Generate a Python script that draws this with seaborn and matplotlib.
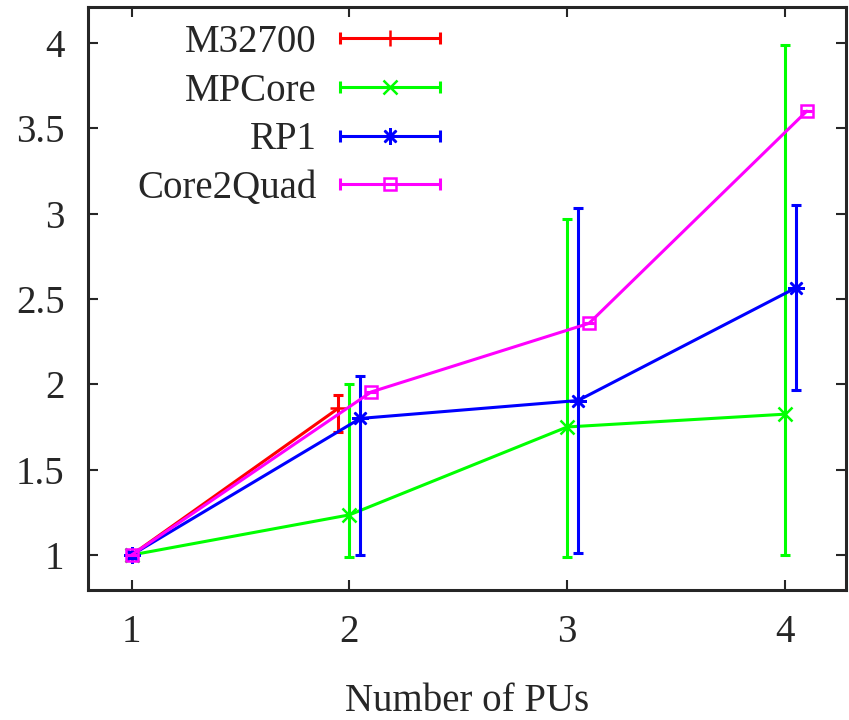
import numpy as np
import pandas as pd
import seaborn as sns
import matplotlib
matplotlib.use("Agg")
import matplotlib.pyplot as plt
from matplotlib.lines import Line2D
from matplotlib.legend_handler import HandlerLine2D, HandlerTuple

# datos
series = ["M32700", "MPCore", "RP1", "Core2Quad"]
colores = ["#ff0000", "#00ff00", "#0000ff", "#ff00ff"]
marcadores = ["+", "x", (8, 2, 0), "s"]

m32700_x = [1, 1.95]
m32700_y = [1.0, 1.86]
m32700_lo = [1.0, 1.72]
m32700_hi = [1.0, 1.94]

mpcore_x = [1, 2, 3, 4]
mpcore_y = [1.0, 1.235, 1.75, 1.825]
mpcore_lo = [1.0, 0.99, 0.99, 1.0]
mpcore_hi = [1.0, 2.0, 2.97, 3.99]

rp1_x = [1, 2.05, 3.05, 4.05]
rp1_y = [1.0, 1.80, 1.905, 2.565]
rp1_lo = [0.98, 1.0, 1.01, 1.965]
rp1_hi = [1.02, 2.05, 3.03, 3.05]

c2q_x = [1, 2.1, 3.1, 4.1]
c2q_y = [1.0, 1.955, 2.357, 3.60]
c2q_lo = [1.0, 1.955, 2.357, 3.60]
c2q_hi = [1.0, 1.955, 2.357, 3.60]

xticks = [1, 2, 3, 4]
yticks = [1, 1.5, 2, 2.5, 3, 3.5, 4]

datos = [
    (m32700_x, m32700_y, m32700_lo, m32700_hi),
    (mpcore_x, mpcore_y, mpcore_lo, mpcore_hi),
    (rp1_x, rp1_y, rp1_lo, rp1_hi),
    (c2q_x, c2q_y, c2q_lo, c2q_hi),
]

FS = 28

sns.set_style("ticks")
plt.rcParams["font.family"] = ["Liberation Serif", "DejaVu Serif"]
plt.rcParams["font.size"] = FS

fig = plt.figure(figsize=(8.49, 7.2), dpi=100)
ax = fig.add_axes([88 / 849, 1 - 590 / 720, (846 - 88) / 849, (590 - 7) / 720])


def tam(m):
    if m == "s":
        return 8
    if m == "x":
        return 10
    return 12


handles = []
handler_map = {}
for nombre, color, marca, (x, y, lo, hi) in zip(series, colores, marcadores, datos):
    df = pd.DataFrame({"x": x, "y": y})
    sns.lineplot(data=df, x="x", y="y", sort=False, color=color, lw=2.2,
                 marker=marca, ms=tam(marca), mec=color, mfc="none",
                 mew=1.8, ax=ax)
    y_arr = np.array(y)
    yerr = [y_arr - np.array(lo), np.array(hi) - y_arr]
    ax.errorbar(x, y, yerr=yerr, fmt="none", ecolor=color, elinewidth=2.2,
                capsize=3.8, capthick=2.2)
    # manija de leyenda: linea con topes + marcador central
    tope = Line2D([], [], color=color, lw=2.2, marker="|", ms=8, mew=2.2)
    centro = Line2D([], [], color=color, ls="none", marker=marca,
                    ms=tam(marca), mec=color, mfc="none", mew=1.8)
    handler_map[tope] = HandlerLine2D(numpoints=2, marker_pad=0)
    handler_map[centro] = HandlerLine2D(numpoints=1)
    handles.append((tope, centro))

handler_map[tuple] = HandlerTuple(ndivide=1, pad=0)
leg = fig.legend(handles, series, handler_map=handler_map, loc="upper right",
                 bbox_to_anchor=(440 / 849, 1 - 24 / 720), frameon=False,
                 markerfirst=False, handlelength=2.57,
                 handletextpad=0.6, labelspacing=0.3, borderpad=0,
                 borderaxespad=0, fontsize=FS)
for t in leg.get_texts():
    t.set_ha("right")

ax.set_xlim(0.8, 4.28)
ax.set_ylim(0.795, 4.21)
ax.set_xticks(xticks)
ax.set_xticklabels([str(v) for v in xticks])
ax.set_yticks(yticks)
ax.set_yticklabels([f"{v:g}" for v in yticks])
ax.tick_params(direction="in", length=7, width=1.5, top=True, right=True,
               labelsize=FS, pad=17)
ax.tick_params(axis="x", pad=17)
for s in ax.spines.values():
    s.set_linewidth(2.2)
ax.set_xlabel("Number of PUs", fontsize=FS, labelpad=23)
ax.set_ylabel("")

fig.savefig("out.png", dpi=100)
